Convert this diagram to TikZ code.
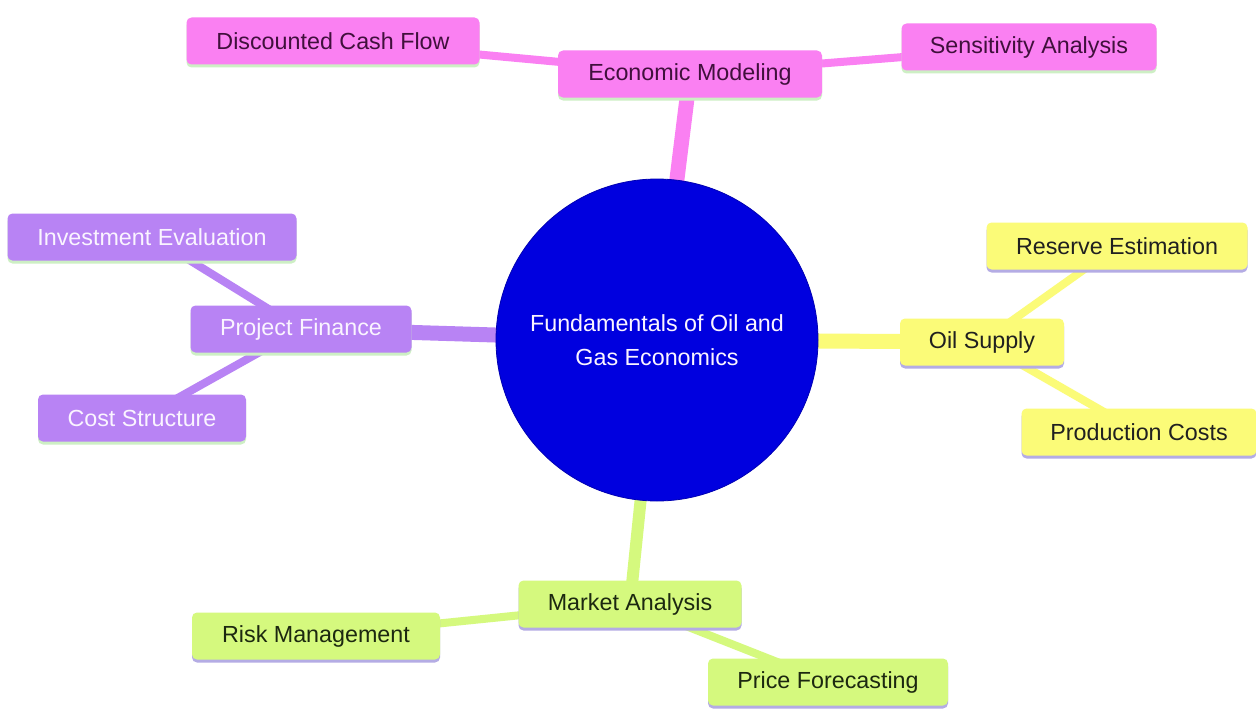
\documentclass[tikz,border=0pt]{standalone}
\usepackage{fontspec}
\setmainfont{Liberation Sans}
\usetikzlibrary{shadows,backgrounds}
\pgfdeclarelayer{paper}
\pgfsetlayers{paper,background,main}
\definecolor{pinkf}{HTML}{FA80F2}
\definecolor{purpf}{HTML}{B883F4}
\definecolor{yelf}{HTML}{FBFB78}
\definecolor{grnf}{HTML}{D5F97E}
\definecolor{rootf}{HTML}{0000DF}
\definecolor{lav}{HTML}{B4ACE4}
\definecolor{palegrn}{HTML}{CDEFC4}
\definecolor{pinktxt}{HTML}{40103C}
\definecolor{purptxt}{HTML}{FAF4FF}
\definecolor{darktxt}{HTML}{202020}
\definecolor{grntxt}{HTML}{1C2810}
\begin{document}
\begin{tikzpicture}[x=1pt,y=-1pt,
  every node/.style={font=\fontsize{23.3}{34}\selectfont},
  box/.style={rectangle,rounded corners=5pt,minimum height=47pt,inner sep=0pt},
  pinkbox/.style={box,fill=pinkf,text=pinktxt,
    drop shadow={fill=palegrn,shadow xshift=0pt,shadow yshift=-3pt,opacity=1}},
  purpbox/.style={box,fill=purpf,text=purptxt,
    drop shadow={fill=palegrn,shadow xshift=0pt,shadow yshift=-3pt,opacity=1}},
  yelbox/.style={box,fill=yelf,text=darktxt,
    drop shadow={fill=lav,shadow xshift=0pt,shadow yshift=-3pt,opacity=1}},
  grnbox/.style={box,fill=grnf,text=grntxt,
    drop shadow={fill=lav,shadow xshift=0pt,shadow yshift=-3pt,opacity=1}},
  mainline/.style={line width=15pt},
  subline/.style={line width=8pt}]
\begin{pgfonlayer}{paper}
\fill[white] (0,0) rectangle (1256,709);
\end{pgfonlayer}
\useasboundingbox (0,0) rectangle (1256,709);
% root
\node[circle,fill=rootf,draw=rootf!80!black,line width=0.8pt,minimum size=322pt,
  text=purptxt,align=center] (root) at (657,340)
  {Fundamentals of Oil and\\Gas Economics};
% pink branch
\node[pinkbox,minimum width=264pt] (em) at (690,74) {Economic Modeling};
\node[pinkbox,minimum width=293pt] (dcf) at (333,41) {Discounted Cash Flow};
\node[pinkbox,minimum width=255pt] (sa) at (1029,47) {Sensitivity Analysis};
% purple branch
\node[purpbox,minimum width=221pt] (pf) at (301,329) {Project Finance};
\node[purpbox,minimum width=289pt] (ie) at (152,237) {Investment Evaluation};
\node[purpbox,minimum width=208pt] (cs) at (142,418) {Cost Structure};
% yellow branch
\node[yelbox,minimum width=164pt] (os) at (982,342) {Oil Supply};
\node[yelbox,minimum width=261pt] (re) at (1117,246) {Reserve Estimation};
\node[yelbox,minimum width=235pt] (pc) at (1139,432) {Production Costs};
% green branch
\node[grnbox,minimum width=223pt] (ma) at (630,604) {Market Analysis};
\node[grnbox,minimum width=248pt] (rm) at (316,636) {Risk Management};
\node[grnbox,minimum width=240pt] (pfc) at (828,682) {Price Forecasting};
\begin{scope}[on background layer]
\draw[mainline,pinkf] (root.center) -- (em.center);
\draw[subline,pinkf] (em.center) -- (dcf.center);
\draw[subline,pinkf] (em.center) -- (sa.center);
\draw[mainline,purpf] (root.center) -- (pf.center);
\draw[subline,purpf] (pf.center) -- (ie.center);
\draw[subline,purpf] (pf.center) -- (cs.center);
\draw[mainline,yelf] (root.center) -- (os.center);
\draw[subline,yelf] (os.center) -- (re.center);
\draw[subline,yelf] (os.center) -- (pc.center);
\draw[line width=12pt,grnf] (root.center) -- (ma.center);
\draw[subline,grnf] (ma.center) -- (rm.center);
\draw[subline,grnf] (ma.center) -- (pfc.center);
\end{scope}
\end{tikzpicture}
\end{document}
